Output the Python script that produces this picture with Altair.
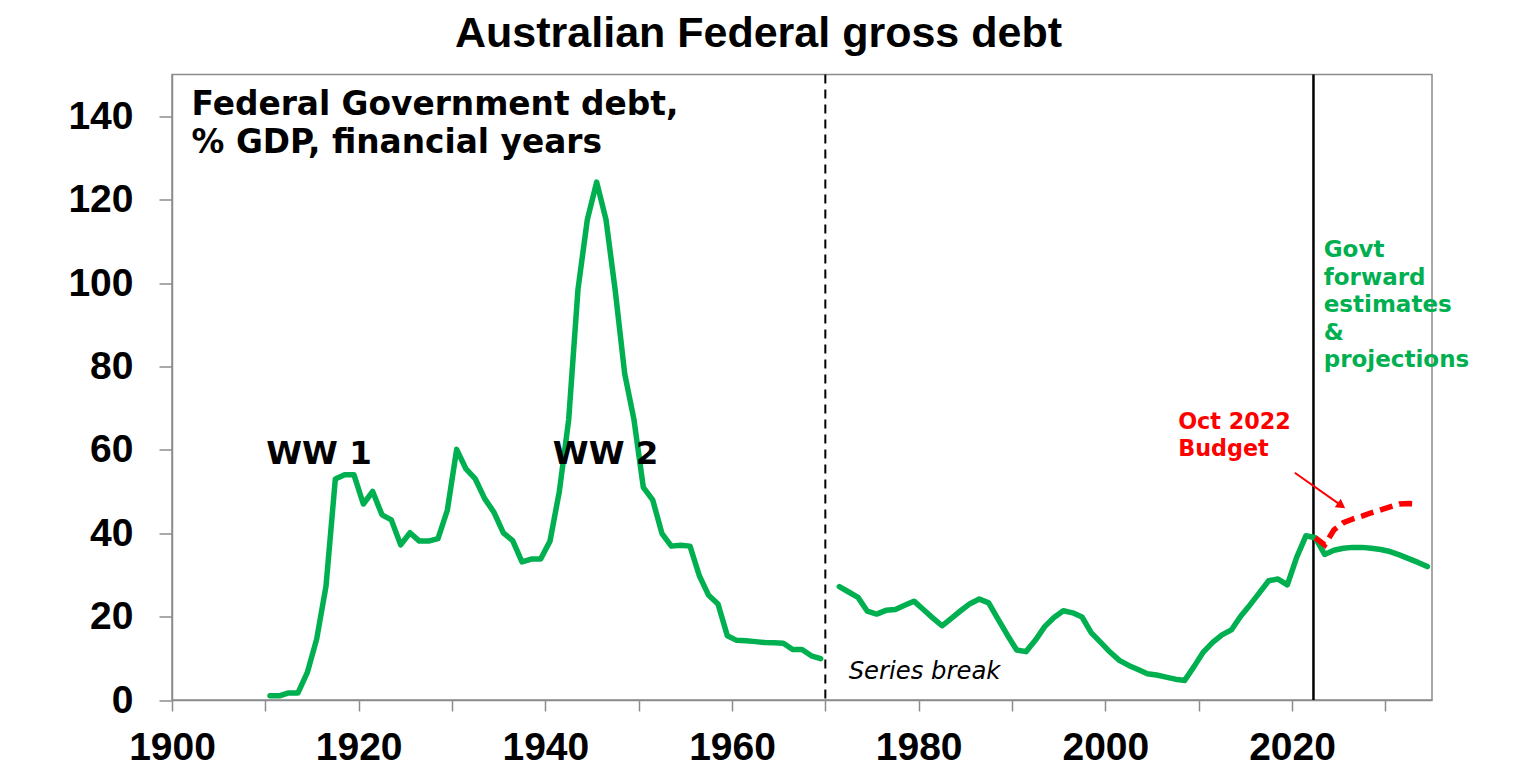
import altair as alt
import pandas as pd

# ---------------- data ----------------
years_pre = list(range(1910, 1970))
debt_pre = [1.0, 1.0, 1.7, 1.7, 6.6, 14.6, 27.3, 53.0, 54.0, 54.0,
            47.0, 50.0, 44.4, 43.2, 37.2, 40.1, 38.1, 38.1, 38.7, 45.5,
            60.1, 55.4, 53.0, 48.3, 45.0, 40.1, 38.2, 33.1, 33.8, 33.8,
            38.1, 50.0, 67.2, 98.5, 115.2, 124.2, 115.2, 98.0, 78.3, 67.2,
            51.0, 48.0, 39.9, 36.9, 37.1, 36.9, 29.8, 25.1, 23.0, 15.4,
            14.3, 14.2, 14.0, 13.8, 13.7, 13.6, 12.1, 12.1, 10.6, 9.9]

years_post = list(range(1971, 2035))
debt_post = [27.2, 25.9, 24.6, 21.3, 20.6, 21.5, 21.7, 22.7, 23.7, 21.7,
             19.7, 17.8, 19.6, 21.4, 23.1, 24.2, 23.3, 19.4, 15.6, 12.0,
             11.6, 14.3, 17.6, 19.8, 21.4, 20.9, 19.9, 16.1, 13.8, 11.5,
             9.5, 8.3, 7.3, 6.3, 6.0, 5.5, 5.0, 4.7, 8.0, 11.5,
             13.8, 15.6, 16.8, 20.1, 22.8, 25.7, 28.6, 29.0, 27.6, 34.2,
             39.4, 38.9, 34.9, 35.9, 36.4, 36.6, 36.6, 36.4, 36.1, 35.6,
             34.8, 33.9, 33.0, 32.0]

years_budget = list(range(2022, 2034))
debt_budget = [38.9, 37.2, 40.8, 42.5, 43.4, 44.1, 44.9, 45.6, 46.3, 47.0, 47.1, 47.0]

x_ticks = list(range(1900, 2031, 10))
y_ticks = list(range(0, 141, 20))

title_text = "Australian Federal gross debt"
subtitle_lines = ["Federal Government debt,", "% GDP, financial years"]
ww_labels = ["WW 1", "WW 2"]
break_label = "Series break"
budget_lines = ["Oct 2022", "Budget"]
govt_lines = ["Govt", "forward", "estimates", "&", "projections"]

GREEN = "#00B050"
RED = "#FF0000"
FONT = "Liberation Sans"
ANN_FONT = "DejaVu Sans"

# ---------------- tables ----------------
df_pre = pd.DataFrame({"year": years_pre, "debt": debt_pre, "seg": "pre"})
df_post = pd.DataFrame({"year": years_post, "debt": debt_post, "seg": "post"})
green = pd.concat([df_pre, df_post], ignore_index=True)
green["x"] = green["year"] + 0.5

red = pd.DataFrame({"year": years_budget, "debt": debt_budget})
red["x"] = red["year"] + 0.5

x_scale = alt.Scale(domain=[1900, 2035], nice=False, zero=False)
y_scale = alt.Scale(domain=[0, 150], nice=False)

x_axis = alt.Axis(values=x_ticks, format="d",
                  labelExpr="datum.value % 20 == 0 ? datum.label : ''",
                  title=None, grid=False, tickSize=11, labelPadding=17,
                  labelFlush=False, labelOverlap=False)
y_axis = alt.Axis(values=y_ticks, format="d", title=None, grid=False,
                  tickSize=13, labelPadding=26, labelOverlap=False)

green_line = alt.Chart(green).mark_line(color=GREEN, strokeWidth=5.5,
                                        strokeJoin="round", strokeCap="round").encode(
    x=alt.X("x:Q", scale=x_scale, axis=x_axis),
    y=alt.Y("debt:Q", scale=y_scale, axis=y_axis),
    detail="seg:N",
)

red_line = alt.Chart(red).mark_line(color=RED, strokeWidth=5.5,
                                    strokeDash=[13, 7]).encode(
    x=alt.X("x:Q", scale=x_scale),
    y=alt.Y("debt:Q", scale=y_scale),
)

break_rule = alt.Chart(pd.DataFrame({"x": [1970.0]})).mark_rule(
    color="black", strokeWidth=2, strokeDash=[9, 6]).encode(
    x=alt.X("x:Q", scale=x_scale))

now_rule = alt.Chart(pd.DataFrame({"x": [2022.3]})).mark_rule(
    color="black", strokeWidth=2.5).encode(
    x=alt.X("x:Q", scale=x_scale))

# arrow
arrow_df = pd.DataFrame({"x": [2020.3], "y": [54.5], "x2": [2025.3], "y2": [46.6]})
arrow_line = alt.Chart(arrow_df).mark_rule(color=RED, strokeWidth=2).encode(
    x=alt.X("x:Q", scale=x_scale), y=alt.Y("y:Q", scale=y_scale),
    x2="x2:Q", y2="y2:Q")
arrow_head = alt.Chart(arrow_df).mark_point(
    shape="triangle-right", angle=35, size=110, filled=True, color=RED,
    opacity=1).encode(
    x=alt.X("x2:Q", scale=x_scale), y=alt.Y("y2:Q", scale=y_scale))

# ---------------- text ----------------
def text_layer(xs, ys, texts, size, color="black", weight="bold", style="normal"):
    d = pd.DataFrame({"x": xs, "y": ys, "t": texts})
    return alt.Chart(d).mark_text(
        align="left", baseline="alphabetic", font=ANN_FONT, fontSize=size,
        fontWeight=weight, fontStyle=style, color=color).encode(
        x=alt.X("x:Q", scale=x_scale), y=alt.Y("y:Q", scale=y_scale),
        text="t:N")

sub_text = text_layer([1902.1, 1902.1], [140.3, 131.1], subtitle_lines, 32.8)
ww_text = text_layer([1910.1, 1940.8], [56.7, 56.7], ww_labels, 32.5)
break_text = text_layer([1972.5], [5.0], [break_label], 24.3, weight="normal", style="italic")
budget_text = text_layer([2007.8, 2007.8], [65.1, 58.5], budget_lines, 22.3, color=RED)
govt_text = text_layer([2023.4] * 5, [106.3, 99.5, 93.1, 86.3, 79.9], govt_lines, 23, color=GREEN)

title_layer = alt.Chart(pd.DataFrame({"t": [title_text]})).mark_text(
    align="center", baseline="alphabetic", font=FONT, fontSize=43,
    fontWeight="bold", color="black").encode(
    text="t:N", x=alt.value(586.5), y=alt.value(-27.5))

chart = alt.layer(
    break_rule, now_rule, green_line, red_line, arrow_line, arrow_head,
    sub_text, ww_text, break_text, budget_text, govt_text, title_layer,
).properties(
    width=1260, height=625.5,
    autosize=alt.AutoSizeParams(type="none"),
    padding={"left": 164, "top": 66.5, "right": 90, "bottom": 72},
    background="white",
).configure_view(
    stroke="#8c8c8c", strokeWidth=1.5,
).configure_axis(
    labelFont=FONT, labelFontSize=39, labelFontWeight="bold", labelColor="black",
    domainColor="#8c8c8c", domainWidth=1.5, tickColor="#8c8c8c", tickWidth=1.5,
)

chart.save("out.html", embed_options={"renderer": "svg", "actions": False})
